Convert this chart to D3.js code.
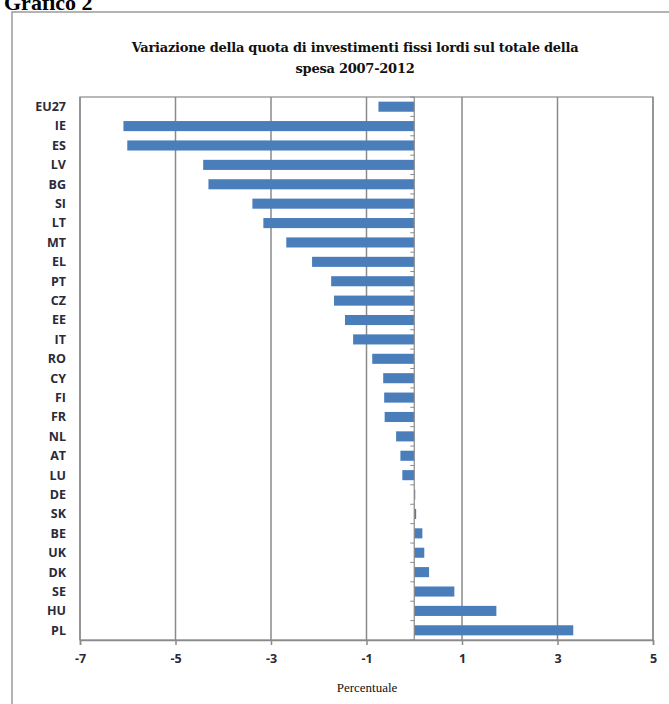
<!DOCTYPE html>
<html>
<head>
<meta charset="utf-8">
<script src="https://cdn.jsdelivr.net/npm/d3@7"></script>
<style>
  body { margin: 0; background: #fff; }
  svg { display: block; }
</style>
</head>
<body>
<svg id="chart"></svg>
<script>
var countries = ["EU27","IE","ES","LV","BG","SI","LT","MT","EL","PT","CZ","EE","IT","RO",
                 "CY","FI","FR","NL","AT","LU","DE","SK","BE","UK","DK","SE","HU","PL"];
var values = [-0.75,-6.09,-6.01,-4.42,-4.31,-3.39,-3.16,-2.68,-2.14,-1.74,-1.68,-1.45,-1.28,-0.88,
              -0.65,-0.63,-0.62,-0.38,-0.29,-0.25,0.02,0.04,0.17,0.21,0.31,0.84,1.72,3.33];
var xTicks = [-7,-5,-3,-1,1,3,5];

var width = 669, height = 704;
var plotLeft = 80, plotRight = 653, plotTop = 97, plotBottom = 640;

var svg = d3.select("#chart")
            .attr("width", width)
            .attr("height", height);

// page heading, cut off at top like the scan
svg.append("text")
   .attr("x", 4).attr("y", 10)
   .attr("font-family", "Liberation Serif")
   .attr("font-weight", "bold")
   .attr("font-size", 22)
   .text("Grafico 2");

// outer frame
svg.append("rect")
   .attr("x", 12).attr("y", 12)
   .attr("width", 680).attr("height", 720)
   .attr("fill", "#fff")
   .attr("stroke", "#9a9a9a")
   .attr("stroke-width", 1.5);

var x = d3.scaleLinear().domain([-7, 5]).range([plotLeft, plotRight]);
var y = d3.scaleBand().domain(countries).range([plotTop, plotBottom]).paddingInner(0.48).paddingOuter(0.24);

// gridlines
svg.selectAll(".grid")
   .data(xTicks)
   .enter()
   .append("line")
   .attr("x1", function(d) { return x(d); })
   .attr("x2", function(d) { return x(d); })
   .attr("y1", plotTop).attr("y2", plotBottom)
   .attr("stroke", "#8a8a8a")
   .attr("stroke-width", 1.5);

// plot border
svg.append("rect")
   .attr("x", plotLeft).attr("y", plotTop)
   .attr("width", plotRight - plotLeft).attr("height", plotBottom - plotTop)
   .attr("fill", "none")
   .attr("stroke", "#8a8a8a")
   .attr("stroke-width", 1.2);

// bars
svg.selectAll(".bar")
   .data(countries)
   .enter()
   .append("rect")
   .attr("x", function(d, i) { return x(Math.min(0, values[i])); })
   .attr("y", function(d) { return y(d); })
   .attr("width", function(d, i) { return Math.max(1, Math.abs(x(values[i]) - x(0))); })
   .attr("height", y.bandwidth())
   .attr("fill", "#4a7ebb");

// zero axis with ticks between categories
var zeroAxis = svg.append("g");
zeroAxis.append("line")
   .attr("x1", x(0)).attr("x2", x(0))
   .attr("y1", plotTop).attr("y2", plotBottom)
   .attr("stroke", "#8a8a8a")
   .attr("stroke-width", 1.2);
zeroAxis.selectAll(".ytick")
   .data(d3.range(countries.length + 1))
   .enter()
   .append("line")
   .attr("x1", x(0) - 4).attr("x2", x(0))
   .attr("y1", function(d) { return plotTop + d * (plotBottom - plotTop) / countries.length; })
   .attr("y2", function(d) { return plotTop + d * (plotBottom - plotTop) / countries.length; })
   .attr("stroke", "#8a8a8a")
   .attr("stroke-width", 1);

// category labels
svg.selectAll(".cat")
   .data(countries)
   .enter()
   .append("text")
   .attr("x", 66)
   .attr("y", function(d) { return y(d) + y.bandwidth() / 2; })
   .attr("dy", "0.35em")
   .attr("text-anchor", "end")
   .attr("font-family", "Open Sans")
   .attr("font-weight", "bold")
   .attr("font-size", 12.5)
   .attr("fill", "#2a2a3a")
   .text(function(d) { return d; });

// x axis
var xAxis = d3.axisBottom(x).tickValues(xTicks).tickSize(5).tickFormat(d3.format("d"));
var gx = svg.append("g")
   .attr("transform", "translate(0," + plotBottom + ")")
   .call(xAxis);
gx.select(".domain").attr("stroke", "#8a8a8a").attr("stroke-width", 1.5);
gx.selectAll(".tick line").attr("stroke", "#8a8a8a").attr("stroke-width", 1.5);
gx.selectAll(".tick text")
   .attr("y", 14)
   .attr("font-family", "Open Sans")
   .attr("font-weight", "bold")
   .attr("font-size", 12.5)
   .attr("fill", "#2a2a3a")
   .text(function(d) { return d < 0 ? "-" + Math.abs(d) : d; });

// titles
var titleLines = ["Variazione della quota di investimenti fissi lordi sul totale della",
                  "spesa 2007-2012"];
svg.selectAll(".title")
   .data(titleLines)
   .enter()
   .append("text")
   .attr("x", 355)
   .attr("y", function(d, i) { return 52 + i * 21; })
   .attr("text-anchor", "middle")
   .attr("font-family", "DejaVu Serif")
   .attr("font-weight", "bold")
   .attr("font-size", 13)
   .attr("letter-spacing", -0.25)
   .attr("fill", "#111")
   .text(function(d) { return d; });

svg.append("text")
   .attr("x", 367).attr("y", 692)
   .attr("text-anchor", "middle")
   .attr("font-family", "Liberation Serif")
   .attr("font-size", 13)
   .attr("fill", "#111")
   .text("Percentuale");
</script>
</body>
</html>
